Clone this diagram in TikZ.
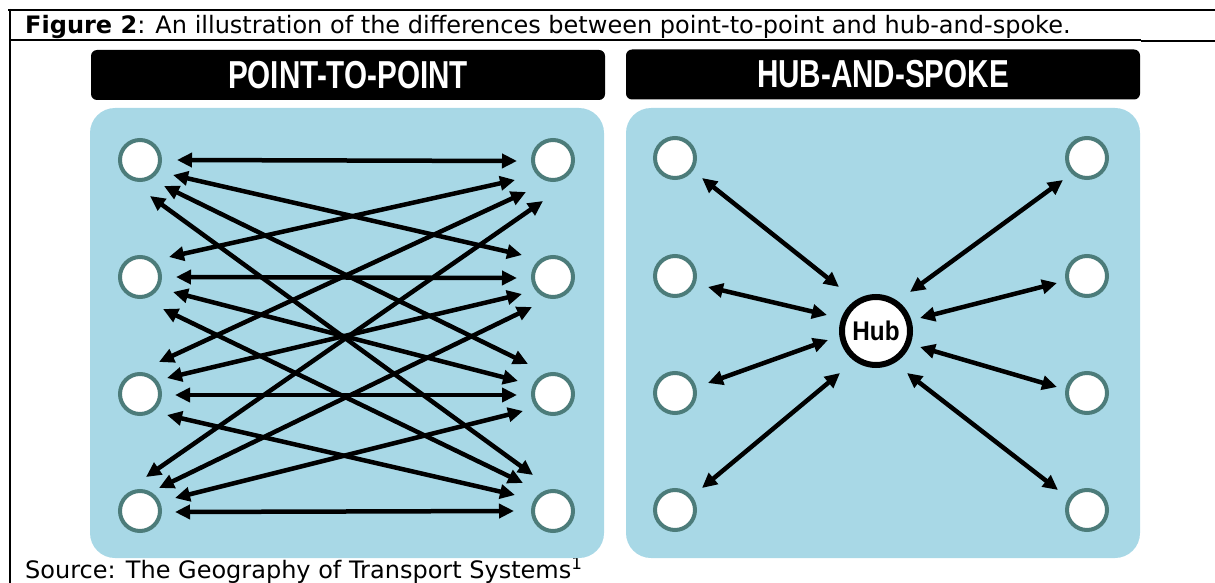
\documentclass[tikz,border=0pt]{standalone}
\usepackage{fontspec}
\setmainfont{DejaVu Sans}
\newfontfamily\hdrfont{Liberation Sans}
\usetikzlibrary{arrows.meta,calc}
\definecolor{panelblue}{RGB}{168,216,230}
\definecolor{ringteal}{RGB}{76,124,122}
\begin{document}
\begin{tikzpicture}[x=1pt,y=-1pt,
  pt/.style={circle,draw=ringteal,fill=white,line width=4pt,minimum size=40pt,inner sep=0pt},
  hubnode/.style={circle,draw=black,fill=white,line width=6pt,minimum size=68pt,inner sep=0pt,
    font=\hdrfont\bfseries\fontsize{27}{27}\selectfont},
  conn/.style={line width=4.5pt,{Triangle[length=15pt,width=14pt]}-{Triangle[length=15pt,width=14pt]}},
  panel/.style={fill=panelblue,rounded corners=25pt},
  header/.style={fill=black,rounded corners=6pt,minimum width=514pt,minimum height=50pt,inner sep=0pt,
    text=white,font=\hdrfont\bfseries\fontsize{39}{39}\selectfont},
  caption/.style={anchor=base west,inner sep=0pt,font=\fontsize{24}{26}\selectfont},
  rule/.style={line width=2pt}
]
\useasboundingbox (0,0) rectangle (1215,583);
% frame
\draw[rule] (8,10) -- (1215,10);
\draw[rule] (10,9) -- (10,583);
\draw[rule] (10,40.5) -- (1141,40.5);
\draw[rule] (1141,41.5) -- (1215,41.5);
% caption
\node[caption] (cap) at (25,34) {\textbf{Figure 2}: An illustration of the differences between point-to-point and hub-and-spoke.};
\node[caption] (src) at (25,578.5) {Source: The Geography of Transport Systems\textsuperscript{1}};
% headers
\node[header] (hL) at (348,75) {\scalebox{0.76}[1]{POINT-TO-POINT}};
\node[header] (hR) at (883,74.5) {\scalebox{0.76}[1]{HUB-AND-SPOKE}};
% panels
\fill[panel] (90,108) rectangle (604,558);
\fill[panel] (626,108) rectangle (1140,558);
% point-to-point nodes
\foreach \i/\y in {1/160,2/277,3/394,4/511}{
  \node[pt] (L\i) at (140,\y) {};
  \node[pt] (R\i) at (553,\y) {};
}
\draw[conn] ($(L1)+(37,0)$) -- ($(R1)+(-36,1)$);
\draw[conn] ($(L1)+(33,15)$) -- ($(R2)+(-31,-22)$);
\draw[conn] ($(L1)+(24,26)$) -- ($(R3)+(-25,-30)$);
\draw[conn] ($(L1)+(10,36)$) -- ($(R4)+(-20,-36)$);
\draw[conn] ($(L2)+(29,-20)$) -- ($(R1)+(-38,20)$);
\draw[conn] ($(L2)+(36,0)$) -- ($(R2)+(-36,1)$);
\draw[conn] ($(L2)+(33,15)$) -- ($(R3)+(-35,-13)$);
\draw[conn] ($(L2)+(23,32)$) -- ($(R4)+(-30,-28)$);
\draw[conn] ($(L3)+(19,-32)$) -- ($(R1)+(-27,32)$);
\draw[conn] ($(L3)+(27,-16)$) -- ($(R2)+(-31,17)$);
\draw[conn] ($(L3)+(35,1)$) -- ($(R3)+(-36,1)$);
\draw[conn] ($(L3)+(27,21)$) -- ($(R4)+(-38,-16)$);
\draw[conn] ($(L4)+(6,-34)$) -- ($(R1)+(-10,41)$);
\draw[conn] ($(L4)+(19,-23)$) -- ($(R2)+(-21,30)$);
\draw[conn] ($(L4)+(35,-13)$) -- ($(R3)+(-30,17)$);
\draw[conn] ($(L4)+(35,1)$) -- ($(R4)+(-39,0)$);
% hub-and-spoke nodes
\foreach \i/\y in {1/158,2/276,3/393,4/510}{
  \node[pt] (A\i) at (675,\y) {};
  \node[pt] (B\i) at (1087,\y) {};
}
\node[hubnode] (hub) at (876,331) {\scalebox{0.9}[1]{Hub}};
\draw[conn] ($(A1)+(27,20)$) -- ($(hub)+(-37,-44)$);
\draw[conn] ($(A2)+(33,11)$) -- ($(hub)+(-49,-16)$);
\draw[conn] ($(A3)+(33,-10)$) -- ($(hub)+(-48,9)$);
\draw[conn] ($(A4)+(27,-22)$) -- ($(hub)+(-36,42)$);
\draw[conn] ($(B1)+(-24,22)$) -- ($(hub)+(34,-39)$);
\draw[conn] ($(B2)+(-30,7)$) -- ($(hub)+(44,-13)$);
\draw[conn] ($(B3)+(-30,-6)$) -- ($(hub)+(44,16)$);
\draw[conn] ($(B4)+(-29,-20)$) -- ($(hub)+(31,42)$);
\end{tikzpicture}
\end{document}
